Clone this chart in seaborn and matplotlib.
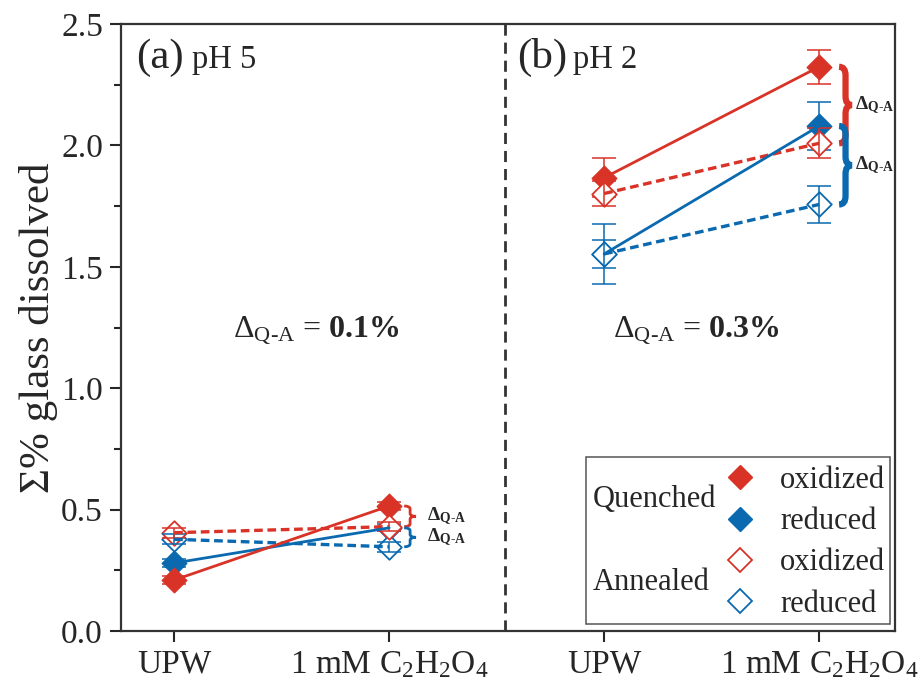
import numpy as np
import pandas as pd
import seaborn as sns
import matplotlib
matplotlib.use("Agg")
import matplotlib.pyplot as plt
from matplotlib.path import Path
from matplotlib.patches import PathPatch, Rectangle
from matplotlib.lines import Line2D

# ---- data -------------------------------------------------------------
solutions = ["UPW", "1 mM C$_2$H$_2$O$_4$"]
panels = ["pH 5", "pH 2"]
panel_tags = ["(a)", "(b)"]
delta_text = ["0.1%", "0.3%"]

# Σ% glass dissolved, [UPW, oxalic acid]
q_ox_ph5 = [0.21, 0.515]
q_red_ph5 = [0.28, 0.425]
a_ox_ph5 = [0.405, 0.43]
a_red_ph5 = [0.378, 0.347]

q_ox_ph2 = [1.867, 2.324]
q_red_ph2 = [1.553, 2.080]
a_ox_ph2 = [1.802, 2.009]
a_red_ph2 = [1.553, 1.757]

# standard deviations
q_ox_ph5_err = [0.015, 0.015]
q_red_ph5_err = [0.015, 0.015]
a_ox_ph5_err = [0.02, 0.02]
a_red_ph5_err = [0.02, 0.02]

q_ox_ph2_err = [0.08, 0.07]
q_red_ph2_err = [0.057, 0.10]
a_ox_ph2_err = [0.05, 0.062]
a_red_ph2_err = [0.125, 0.075]

RED = "#d93328"
BLUE = "#0a69af"
INK = "#262626"

series = {
    ("Quenched", "reduced"): (q_red_ph5, q_red_ph2, q_red_ph5_err, q_red_ph2_err),
    ("Quenched", "oxidized"): (q_ox_ph5, q_ox_ph2, q_ox_ph5_err, q_ox_ph2_err),
    ("Annealed", "reduced"): (a_red_ph5, a_red_ph2, a_red_ph5_err, a_red_ph2_err),
    ("Annealed", "oxidized"): (a_ox_ph5, a_ox_ph2, a_ox_ph5_err, a_ox_ph2_err),
}

rows = []
for (treat, redox), (v5, v2, e5, e2) in series.items():
    for p, (vals, errs) in enumerate([(v5, e5), (v2, e2)]):
        for s in range(2):
            rows.append(dict(panel=panels[p], pos=2 * p + s, treatment=treat,
                             redox=redox, value=vals[s], err=errs[s]))
df = pd.DataFrame(rows)

# ---- style ------------------------------------------------------------
sns.set_theme(style="ticks")
plt.rcParams["font.family"] = ["Liberation Serif", "DejaVu Serif"]
plt.rcParams["mathtext.fontset"] = "custom"
plt.rcParams["mathtext.rm"] = "Liberation Serif"
plt.rcParams["mathtext.it"] = "Liberation Serif:italic"
plt.rcParams["mathtext.bf"] = "Liberation Serif:bold"
plt.rcParams["text.color"] = INK
plt.rcParams["axes.labelcolor"] = INK
plt.rcParams["xtick.color"] = INK
plt.rcParams["ytick.color"] = INK

fig = plt.figure(figsize=(9.24, 6.88), dpi=100)
ax = fig.add_axes([0.131, 0.0828, 0.8376, 0.8822])

MS = 12.5
for (treat, redox) in series:
    color = RED if redox == "oxidized" else BLUE
    filled = treat == "Quenched"
    # layering: quenched symbols below the white-faced annealed symbols,
    # connecting lines above all symbols
    z_err = 2 if filled else 5
    z_mark = 3 if filled else 4
    for p in panels:
        sub = df[(df.treatment == treat) & (df.redox == redox) & (df.panel == p)]
        ax.errorbar(sub["pos"], sub["value"], yerr=sub["err"], fmt="none",
                    ecolor=color, elinewidth=1.1, capsize=8.5, capthick=1.1,
                    zorder=z_err)
        sns.lineplot(data=sub, x="pos", y="value", ax=ax, color=color,
                     estimator=None, errorbar=None,
                     linestyle="-" if filled else (0, (2.6, 1.4)),
                     linewidth=2.0 if filled else 2.4)
        ax.lines[-1].set_zorder(7 if filled else 6)
        sns.scatterplot(data=sub, x="pos", y="value", ax=ax, marker="D",
                        s=MS ** 2, color=color if filled else "white",
                        edgecolor=color, linewidth=1.0 if filled else 1.3,
                        zorder=z_mark, legend=False)

# ---- axes -------------------------------------------------------------
ax.set_xlim(-0.247, 3.353)
ax.set_ylim(0, 2.5)
ax.set_xticks([0, 1, 2, 3])
ax.set_xticklabels(solutions * 2)
ax.set_yticks(np.arange(0, 2.51, 0.5))
ax.set_yticks(np.arange(0.25, 2.5, 0.5), minor=True)
ax.yaxis.set_major_formatter(matplotlib.ticker.FormatStrFormatter("%.1f"))
ax.set_xlabel("")
ax.set_ylabel("Σ% glass dissolved", fontsize=31, labelpad=2)
ax.tick_params(axis="both", which="major", labelsize=24, length=8,
               width=1.5, direction="out", pad=5)
ax.tick_params(axis="y", which="minor", length=5, width=1.5)
ax.tick_params(top=False, right=False)
for sp in ax.spines.values():
    sp.set_visible(True)
    sp.set_linewidth(1.6)
    sp.set_color("#333333")

ax.axvline(1.54, color="#333333", linestyle=(0, (4, 2.5)), linewidth=2.0,
           zorder=1)

# panel tags
for p, x0 in enumerate([-0.178, 1.595]):
    ax.text(x0, 2.32, panel_tags[p], fontsize=31, ha="left", va="baseline")
    ax.text(x0 + 0.262, 2.32, panels[p], fontsize=23.5, ha="left",
            va="baseline")

# Δ annotation per panel
for p, xc in enumerate([0.66, 2.43]):
    ax.text(xc, 1.24,
            r"$\Delta_{\mathrm{Q}\text{-}\mathrm{A}}$ = $\mathbf{" +
            delta_text[p].replace("%", r"\%") + "}$",
            fontsize=23, ha="center", va="center")


def brace(x0, width, y_top, y_bot, r, color, lw):
    xm = x0 + width / 2
    ym = (y_top + y_bot) / 2
    verts = [(x0, y_top), (xm, y_top), (xm, y_top - r),
             (xm, ym + r), (xm, ym), (x0 + width, ym),
             (xm, ym), (xm, ym - r),
             (xm, y_bot + r), (xm, y_bot), (x0, y_bot)]
    codes = [Path.MOVETO, Path.CURVE3, Path.CURVE3,
             Path.LINETO, Path.CURVE3, Path.CURVE3,
             Path.CURVE3, Path.CURVE3,
             Path.LINETO, Path.CURVE3, Path.CURVE3]
    ax.add_patch(PathPatch(Path(verts, codes), fill=False, edgecolor=color,
                           linewidth=lw, capstyle="butt", zorder=8))


# brackets spanning quenched → annealed at the oxalic-acid point
brace_specs = [
    (1.07, 0.055, q_ox_ph5[1], a_ox_ph5[1], 0.012, RED, 2.0, 0.05),
    (1.07, 0.055, q_red_ph5[1], a_red_ph5[1], 0.012, BLUE, 2.0, 0.05),
    (3.093, 0.06, q_ox_ph2[1], a_ox_ph2[1], 0.035, RED, 4.5, 0.012),
    (3.093, 0.06, q_red_ph2[1], a_red_ph2[1], 0.035, BLUE, 4.5, 0.012),
]
for x0, w, yt, yb, r, c, lw, gap in brace_specs:
    brace(x0, w, yt, yb, r, c, lw)
    ax.text(x0 + w + gap, (yt + yb) / 2,
            "$\\mathbf{\\Delta_{Q\u2010A}}$", fontsize=14, ha="left",
            va="center")

# ---- legend -----------------------------------------------------------
handles = [
    Line2D([], [], linestyle="none", marker="D", markersize=MS,
           markerfacecolor=RED, markeredgecolor=RED),
    Line2D([], [], linestyle="none", marker="D", markersize=MS,
           markerfacecolor=BLUE, markeredgecolor=BLUE),
    Line2D([], [], linestyle="none", marker="D", markersize=MS,
           markerfacecolor="none", markeredgecolor=RED, markeredgewidth=1.3),
    Line2D([], [], linestyle="none", marker="D", markersize=MS,
           markerfacecolor="none", markeredgecolor=BLUE, markeredgewidth=1.3),
]
labels = ["oxidized", "reduced", "oxidized", "reduced"]
W, H = 924, 688
ax.legend(handles, labels, loc="upper left",
          bbox_to_anchor=(725 / W, 1 - 466 / H),
          bbox_transform=fig.transFigure, frameon=False, fontsize=22,
          handlelength=1.0, handletextpad=0.8, labelspacing=0.4,
          borderpad=0, borderaxespad=0)
fig.patches.append(Rectangle((586 / W, 1 - 624 / H), (890 - 586) / W,
                             (624 - 457) / H, transform=fig.transFigure,
                             fill=False, edgecolor="#555555", linewidth=1.1,
                             zorder=6))
fig.text(593 / W, 1 - 500 / H, "Quenched", fontsize=22, ha="left",
         va="center")
fig.text(593 / W, 1 - 582 / H, "Annealed", fontsize=22, ha="left",
         va="center")

fig.savefig("out.png", dpi=100)
